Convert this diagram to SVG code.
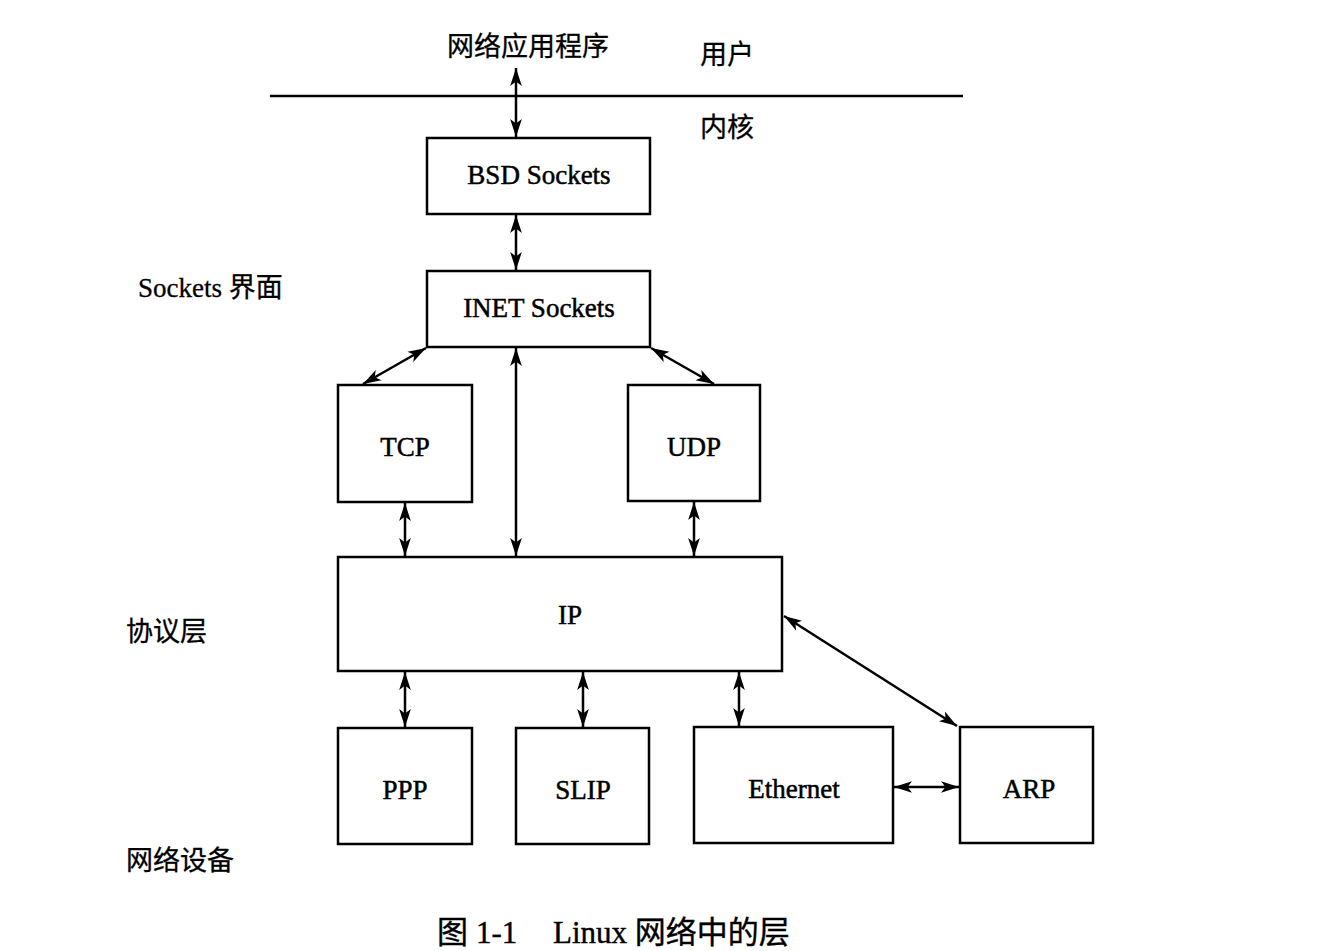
<svg xmlns="http://www.w3.org/2000/svg" width="1336" height="951" viewBox="0 0 1336 951">
<style>
.box{fill:#fff;stroke:#000;stroke-width:2.5}
.t{font-family:"Liberation Serif","Noto Sans CJK SC",serif;font-size:27px;fill:#000;text-anchor:middle;stroke:#000;stroke-width:0.5}
.c{font-family:"Liberation Serif","Noto Sans CJK SC",serif;font-size:27px;fill:#000;stroke:#000;stroke-width:0.3}
.cap{font-family:"Liberation Serif","Noto Sans CJK SC",serif;font-size:31px;fill:#000;stroke:#000;stroke-width:0.4}
.ln{stroke:#000;stroke-width:2.5;fill:none;marker-start:url(#ah);marker-end:url(#ah)}
</style>
<defs>
<marker id="ah" viewBox="0 0 10 10" refX="10" refY="5" markerWidth="18" markerHeight="13" orient="auto-start-reverse" markerUnits="userSpaceOnUse" preserveAspectRatio="none">
<path d="M0,0.5 L10,5 L0,9.5 L2.5,5 z" fill="#000"/>
</marker>
</defs>
<g id="labels">
<text class="c" x="447" y="56">网络应用程序</text>
<text class="c" x="700" y="64">用户</text>
<text class="c" x="700" y="137">内核</text>
<text class="c" x="138" y="297">Sockets 界面</text>
<text class="c" x="126" y="641">协议层</text>
<text class="c" x="126" y="870">网络设备</text>
<text class="cap" x="437" y="943">图</text>
<text class="cap" x="476" y="943">1-1</text>
<text class="cap" x="553" y="943">Linux 网络中的层</text>
</g>
<line x1="270" y1="96" x2="963" y2="96" stroke="#000" stroke-width="2.5"/>
<g id="bsd"><rect class="box" x="427" y="138" width="223" height="76"/><text class="t" x="539" y="184">BSD Sockets</text></g>
<g id="inet"><rect class="box" x="427" y="271" width="223" height="76"/><text class="t" x="539" y="317">INET Sockets</text></g>
<g id="tcp"><rect class="box" x="338" y="385" width="134" height="117"/><text class="t" x="405" y="456">TCP</text></g>
<g id="udp"><rect class="box" x="628" y="385" width="132" height="116"/><text class="t" x="694" y="456">UDP</text></g>
<g id="ip"><rect class="box" x="338" y="557" width="444" height="114"/><text class="t" x="570" y="624">IP</text></g>
<g id="ppp"><rect class="box" x="338" y="728" width="134" height="116"/><text class="t" x="405" y="799">PPP</text></g>
<g id="slip"><rect class="box" x="516" y="728" width="133" height="116"/><text class="t" x="583" y="799">SLIP</text></g>
<g id="ethernet"><rect class="box" x="694" y="727" width="199" height="116"/><text class="t" x="794" y="798">Ethernet</text></g>
<g id="arp"><rect class="box" x="960" y="727" width="133" height="116"/><text class="t" x="1029" y="798">ARP</text></g>
<g id="connectors">
<line class="ln" x1="516" y1="68" x2="516" y2="137"/>
<line class="ln" x1="516" y1="215" x2="516" y2="270"/>
<line class="ln" x1="426" y1="348" x2="363" y2="384"/>
<line class="ln" x1="651" y1="348" x2="714" y2="384"/>
<line class="ln" x1="516" y1="348" x2="516" y2="556"/>
<line class="ln" x1="405" y1="503" x2="405" y2="556"/>
<line class="ln" x1="694" y1="502" x2="694" y2="556"/>
<line class="ln" x1="405" y1="672" x2="405" y2="727"/>
<line class="ln" x1="583" y1="672" x2="583" y2="727"/>
<line class="ln" x1="739" y1="672" x2="739" y2="726"/>
<line class="ln" x1="894" y1="787" x2="959" y2="787"/>
<line class="ln" x1="784" y1="616" x2="957" y2="726"/>
</g>
</svg>
